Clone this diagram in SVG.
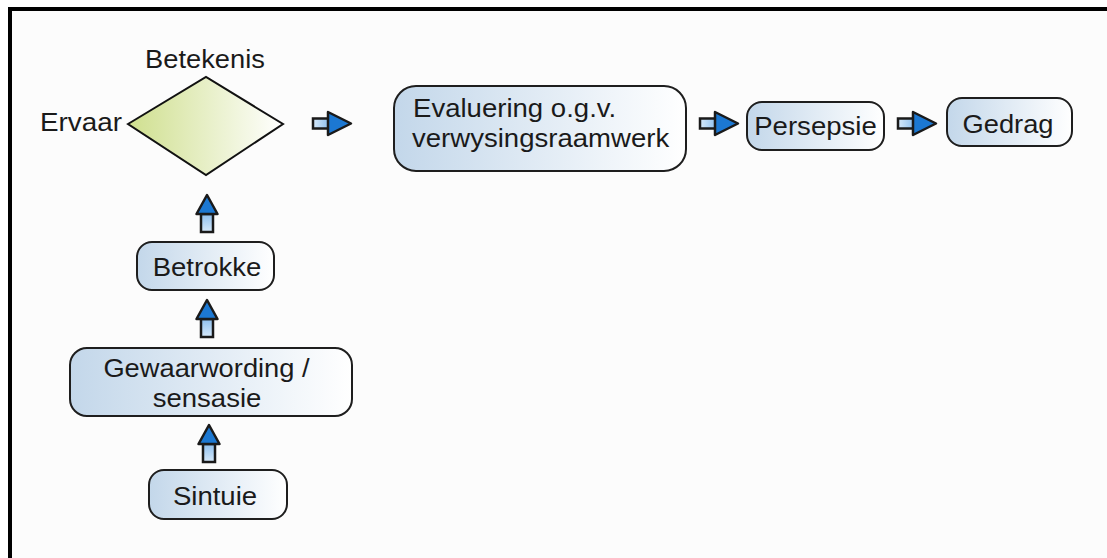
<svg xmlns="http://www.w3.org/2000/svg" width="1107" height="558" viewBox="0 0 1107 558">
<defs>
<linearGradient id="boxg" x1="0" y1="0" x2="1" y2="0">
<stop offset="0" stop-color="#c3d7ea"/>
<stop offset="1" stop-color="#ffffff"/>
</linearGradient>
<linearGradient id="diag" x1="0" y1="0" x2="1" y2="0">
<stop offset="0" stop-color="#cfdf8e"/>
<stop offset="1" stop-color="#ffffff"/>
</linearGradient>
<linearGradient id="tailg" x1="0" y1="0" x2="1" y2="0">
<stop offset="0" stop-color="#d6e9fa"/>
<stop offset="1" stop-color="#8fc0ee"/>
</linearGradient>
<linearGradient id="tailgv" x1="0" y1="1" x2="0" y2="0">
<stop offset="0" stop-color="#d6e9fa"/>
<stop offset="1" stop-color="#8fc0ee"/>
</linearGradient>
<g id="arrR">
<rect x="0" y="-5" width="16" height="10" fill="url(#tailg)" stroke="#1a1a1a" stroke-width="2.5"/>
<polygon points="15,-11.5 38,0 15,11.5" fill="#1c78d2" stroke="#1a1a1a" stroke-width="2.5" stroke-linejoin="round"/>
</g>
<g id="arrU">
<rect x="-6" y="-18" width="12" height="18" fill="url(#tailgv)" stroke="#1a1a1a" stroke-width="2.5"/>
<polygon points="-10.5,-18 0,-37 10.5,-18" fill="#1c78d2" stroke="#1a1a1a" stroke-width="2.5" stroke-linejoin="round"/>
</g>
</defs>
<style>
.box{fill:url(#boxg);stroke:#1e1e1e;stroke-width:2}
.t{font-family:"Liberation Sans",Arial,sans-serif;font-size:26px;fill:#1a1a1a}
.m{text-anchor:middle}
</style>
<rect x="0" y="0" width="1107" height="558" fill="#ffffff"/>
<rect x="10" y="9" width="1097" height="549" fill="#fcfcfc"/>
<line x1="8" y1="9" x2="1107" y2="9" stroke="#000" stroke-width="4"/>
<line x1="10" y1="7" x2="10" y2="558" stroke="#000" stroke-width="4"/>

<g id="connectors">
<use href="#arrR" x="313" y="123.5"/>
<use href="#arrR" x="700" y="123.5"/>
<use href="#arrR" x="898" y="123.5"/>
<use href="#arrU" x="207" y="232"/>
<use href="#arrU" x="207" y="337"/>
<use href="#arrU" x="209" y="462"/>
</g>

<g id="node-betekenis">
<polygon points="128,124 206,77 283,124 206,175" fill="url(#diag)" stroke="#111" stroke-width="2"/>
<text class="t m" transform="translate(205,68) scale(1.05,1)">Betekenis</text>
<text class="t m" transform="translate(81,131) scale(1.07,1)">Ervaar</text>
</g>

<g id="node-evaluering">
<rect class="box" x="394" y="86" width="292" height="85" rx="22"/>
<text class="t" transform="translate(413,117) scale(1.06,1)">Evaluering o.g.v.</text>
<text class="t" transform="translate(412,147) scale(1.06,1)">verwysingsraamwerk</text>
</g>

<g id="node-persepsie">
<rect class="box" x="747" y="102" width="137" height="48" rx="15"/>
<text class="t m" transform="translate(815.5,135) scale(1.06,1)">Persepsie</text>
</g>

<g id="node-gedrag">
<rect class="box" x="947" y="98" width="125" height="48" rx="15"/>
<text class="t m" transform="translate(1008,133) scale(1.05,1)">Gedrag</text>
</g>

<g id="node-betrokke">
<rect class="box" x="137" y="242" width="137" height="48" rx="15"/>
<text class="t m" transform="translate(207,276) scale(1.06,1)">Betrokke</text>
</g>

<g id="node-gewaarwording">
<rect class="box" x="70" y="348" width="282" height="68" rx="17"/>
<text class="t m" transform="translate(206.5,377) scale(1.05,1)">Gewaarwording /</text>
<text class="t m" transform="translate(207,407) scale(1.06,1)">sensasie</text>
</g>

<g id="node-sintuie">
<rect class="box" x="149" y="470" width="138" height="49" rx="15"/>
<text class="t m" transform="translate(215,505) scale(1.06,1)">Sintuie</text>
</g>
</svg>
